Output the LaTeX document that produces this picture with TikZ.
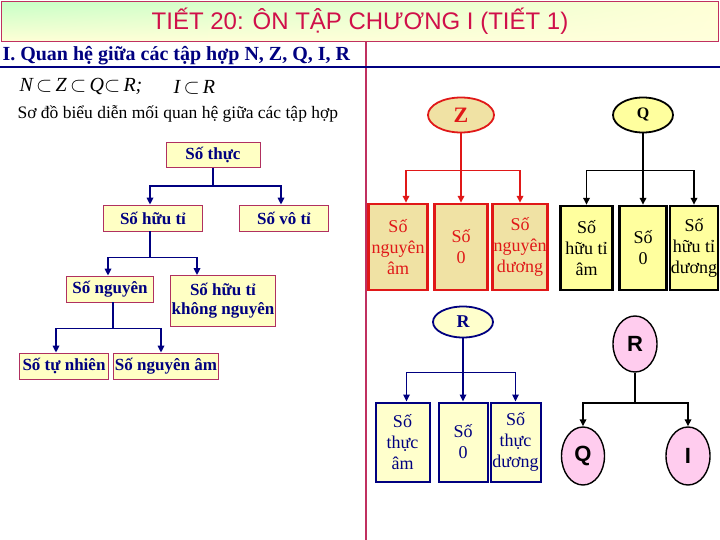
\documentclass[tikz,border=0pt]{standalone}
\usepackage{fontspec}
\setmainfont{Liberation Serif}
\newfontfamily\arialfont{Liberation Sans}
\usetikzlibrary{arrows.meta,shapes.geometric,shadings}

\definecolor{navy}{HTML}{000080}
\definecolor{crimson}{HTML}{D0104A}
\definecolor{frameline}{HTML}{C03060}
\definecolor{boxline}{HTML}{B03060}
\definecolor{boxfill}{HTML}{FFFFC4}
\definecolor{zfill}{HTML}{F0E2A4}
\definecolor{zred}{HTML}{E01818}
\definecolor{qfill}{HTML}{FFFF9E}
\definecolor{rfill}{HTML}{FFFFCC}
\definecolor{pinkfill}{HTML}{FFCCEE}

\begin{document}
\begin{tikzpicture}[x=1pt, y=-1pt,
    treebox/.style={draw=boxline, fill=boxfill, line width=0.8pt, text=navy,
        font=\fontsize{17}{18}\selectfont\bfseries, inner sep=1pt, align=center},
    tallbox/.style={line width=2.4pt, inner sep=1pt, align=center,
        font=\fontsize{18}{21}\selectfont},
    oval/.style={ellipse, line width=1.8pt, inner sep=0pt},
    navyarr/.style={navy, line width=1.6pt, -{Triangle[length=7pt,width=6.5pt]}},
    redarr/.style={zred, line width=1.6pt, -{Triangle[length=7pt,width=6.5pt]}},
    blackarr/.style={black, line width=1.6pt, -{Triangle[length=7pt,width=6.5pt]}}
]
    \useasboundingbox (0,0) rectangle (720,540);

    % Title bar
    \node[draw=frameline, line width=1.6pt, minimum width=717, minimum height=40,
        upper left=green!22, lower left=yellow!16, upper right=yellow!16, lower right=yellow!14]
        (titlebar) at (360,21.5) {};
    \node[text=crimson, font=\arialfont\fontsize{24}{26}\selectfont] (title) at (360,21)
        {TIẾT 20: ÔN TẬP CHƯƠNG I (TIẾT 1)};

    % Frame lines
    \draw[frameline, line width=1.2pt] (366,42) -- (366,540);
    \draw[navy, line width=1.8pt] (0,67) -- (720,67);

    % Heading and inclusions
    \node[anchor=west, text=navy, font=\fontsize{20}{22}\selectfont\bfseries] (heading) at (-1,56)
        {I. Quan hệ giữa các tập hợp N, Z, Q, I, R};
    \node[anchor=west, font=\fontsize{20}{22}\selectfont\itshape] (incl) at (16,87)
        {N\,$\subset$\,Z\,$\subset$\,Q$\subset$\,R;};
    \node[anchor=west, font=\fontsize{20}{22}\selectfont\itshape] (incli) at (170,87)
        {I\,$\subset$\,R};
    \node[anchor=west, font=\fontsize{17.5}{19}\selectfont] (caption) at (14,114)
        {Sơ đồ biểu diễn mối quan hệ giữa các tập hợp};

    % Left tree
    \node[treebox, minimum width=94, minimum height=25] (thuc) at (213,155) {Số thực};
    \node[treebox, minimum width=99, minimum height=26] (huuti) at (153,218) {Số hữu tỉ};
    \node[treebox, minimum width=89, minimum height=26] (voti) at (284,218) {Số vô tỉ};
    \node[treebox, minimum width=87, minimum height=26] (nguyen) at (110,289) {Số nguyên};
    \node[treebox, minimum width=104, minimum height=51] (khong) at (223,301) {Số hữu tỉ\\[1pt]không nguyên};
    \node[treebox, minimum width=89, minimum height=26] (tunhien) at (64,366) {Số tự nhiên};
    \node[treebox, minimum width=105, minimum height=26] (nguyenam) at (166,366) {Số nguyên âm};

    \draw[navyarr] (thuc.south) -- ++(0,18) -| ([xshift=-3pt]huuti.north);
    \draw[navyarr] (thuc.south) -- ++(0,18) -| ([xshift=-3pt]voti.north);
    \draw[navyarr] ([xshift=-3pt]huuti.south) -- ++(0,26) -| ([xshift=-2pt]nguyen.north);
    \draw[navyarr] ([xshift=-3pt]huuti.south) -- ++(0,26) -| ([xshift=-26pt]khong.north);
    \draw[navyarr] ([xshift=3pt]nguyen.south) -- ++(0,26) -| ([xshift=-8pt]tunhien.north);
    \draw[navyarr] ([xshift=3pt]nguyen.south) -- ++(0,26) -| ([xshift=-5pt]nguyenam.north);

    % Z
    \node[oval, draw=zred, fill=zfill, minimum width=66, minimum height=35, text=zred,
        font=\fontsize{22}{24}\selectfont\bfseries] (z) at (461,115) {Z};
    \node[tallbox, draw=zred, fill=zfill, text=zred, minimum width=59, minimum height=86] (zam) at (398,247) {Số\\nguyên\\âm};
    \node[tallbox, draw=zred, fill=zfill, text=zred, minimum width=53, minimum height=86] (zkhong) at (461,247) {Số\\0};
    \node[tallbox, draw=zred, fill=zfill, text=zred, minimum width=53, minimum height=86] (zduong) at (520,247) {Số\\nguyên\\dương};
    \draw[redarr] (z.south) -- ++(0,37) -| ([xshift=8pt]zam.north);
    \draw[redarr] (z.south) -- (zkhong.north);
    \draw[redarr] (z.south) -- ++(0,37) -| (zduong.north);

    % Q
    \node[oval, draw=black, fill=qfill, minimum width=60, minimum height=35,
        font=\fontsize{16}{18}\selectfont\bfseries] (q) at (643,115) {Q};
    \node[tallbox, draw=black, fill=qfill, minimum width=52, minimum height=84] (qam) at (586.5,248) {Số\\hữu tỉ\\âm};
    \node[tallbox, draw=black, fill=qfill, minimum width=47, minimum height=84] (qkhong) at (643,248) {Số\\0};
    \node[tallbox, draw=black, fill=qfill, minimum width=47, minimum height=84] (qduong) at (694,248) {Số\\hữu tỉ\\dương};
    \draw[blackarr] (q.south) -- ++(0,37) -| (qam.north);
    \draw[blackarr] (q.south) -- (qkhong.north);
    \draw[blackarr] (q.south) -- ++(0,37) -| (qduong.north);

    % R
    \node[oval, draw=navy, fill=rfill, minimum width=60, minimum height=31, text=navy,
        font=\fontsize{18}{20}\selectfont\bfseries] (r) at (463,322) {R};
    \node[tallbox, line width=2pt, draw=navy, fill=rfill, text=navy, minimum width=54, minimum height=79] (ram) at (402.5,442) {Số\\thực\\âm};
    \node[tallbox, line width=2pt, draw=navy, fill=rfill, text=navy, minimum width=49, minimum height=79] (rkhong) at (463,442) {Số\\0};
    \node[tallbox, line width=2pt, draw=navy, fill=rfill, text=navy, minimum width=50, minimum height=79] (rduong) at (515.5,442) {Số\\thực\\dương};
    \draw[navyarr] (r.south) -- ++(0,34) -| ([xshift=4pt]ram.north);
    \draw[navyarr] (r.south) -- (rkhong.north);
    \draw[navyarr] (r.south) -- ++(0,34) -| (rduong.north);

    % R, Q, I
    \node[oval, draw=black, line width=1.4pt, fill=pinkfill, minimum width=44, minimum height=56,
        font=\arialfont\fontsize{22}{24}\selectfont\bfseries] (rr) at (635,344) {R};
    \node[oval, draw=black, line width=1.4pt, fill=pinkfill, minimum width=43, minimum height=58,
        font=\arialfont\fontsize{22}{24}\selectfont\bfseries] (qq) at (583,456) {Q};
    \node[oval, draw=black, line width=1.4pt, fill=pinkfill, minimum width=44, minimum height=58,
        font=\arialfont\fontsize{22}{24}\selectfont\bfseries] (ii) at (688,456) {I};
    \draw[blackarr] (rr.south) -- ++(0,30) -| (qq.north);
    \draw[blackarr] (rr.south) -- ++(0,30) -| (ii.north);

\end{tikzpicture}
\end{document}
